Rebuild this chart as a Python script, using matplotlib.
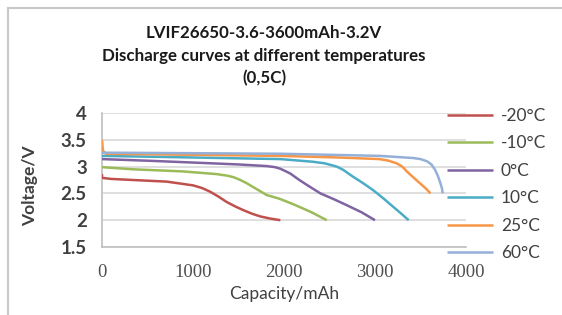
import matplotlib
matplotlib.use("Agg")
import matplotlib.pyplot as plt
from matplotlib.lines import Line2D

# capacity (mAh) / voltage (V)
cap_m20 = [0, 0, 100, 340, 710, 1000, 1100, 1190, 1280, 1370, 1460, 1550, 1650, 1740, 1850, 1960]
v_m20 = [2.86, 2.79, 2.77, 2.75, 2.72, 2.65, 2.60, 2.53, 2.44, 2.34, 2.26, 2.19, 2.12, 2.07, 2.03, 2.0]

cap_m10 = [0, 340, 890, 1260, 1380, 1450, 1520, 1590, 1700, 1810, 1950, 2100, 2300, 2470]
v_m10 = [2.99, 2.95, 2.91, 2.86, 2.83, 2.80, 2.75, 2.69, 2.58, 2.47, 2.40, 2.30, 2.15, 2.0]

cap_0 = [0, 500, 1080, 1500, 1810, 1900, 1960, 2010, 2070, 2160, 2250, 2400, 2550, 2690, 2850, 3000]
v_0 = [3.14, 3.11, 3.07, 3.04, 3.01, 2.99, 2.96, 2.92, 2.87, 2.76, 2.66, 2.50, 2.39, 2.28, 2.15, 2.0]

cap_10 = [0, 1000, 1960, 2320, 2450, 2580, 2650, 2700, 2760, 2870, 2980, 3090, 3200, 3290, 3370]
v_10 = [3.20, 3.17, 3.14, 3.09, 3.06, 3.00, 2.94, 2.88, 2.81, 2.69, 2.56, 2.41, 2.25, 2.12, 2.0]

cap_25 = [0, 10, 40, 1000, 1960, 2600, 3050, 3150, 3240, 3300, 3350, 3420, 3500, 3560, 3610]
v_25 = [3.5, 3.3, 3.24, 3.22, 3.20, 3.17, 3.14, 3.11, 3.06, 3.0, 2.91, 2.80, 2.68, 2.59, 2.5]

cap_60 = [0, 1000, 1960, 3050, 3420, 3500, 3570, 3620, 3660, 3690, 3715, 3735, 3745]
v_60 = [3.26, 3.25, 3.24, 3.20, 3.16, 3.14, 3.10, 3.04, 2.94, 2.83, 2.71, 2.60, 2.5]

labels = ["-20°C", "-10°C", "0°C", "10°C", "25°C", "60°C"]
colors = ["#C0504D", "#9BBB59", "#8064A2", "#4BACC6", "#F79646", "#95B0D8"]
xticks = [0, 1000, 2000, 3000, 4000]
yticks = [1.5, 2, 2.5, 3, 3.5, 4]

W, H = 562, 315
fig = plt.figure(figsize=(W / 100, H / 100), dpi=100)
ax = fig.add_axes([102 / W, 1 - 247 / H, (466 - 102) / W, (247 - 113) / H])

series = [(cap_m20, v_m20), (cap_m10, v_m10), (cap_0, v_0),
          (cap_10, v_10), (cap_25, v_25), (cap_60, v_60)]
for (x, y), c, lab in zip(series, colors, labels):
    ax.plot(x, y, color=c, lw=1.8, label=lab, solid_joinstyle="round",
            solid_capstyle="butt", zorder=3)

ax.set_xlim(0, 4000)
ax.set_ylim(1.5, 4)
ax.set_xticks(xticks)
ax.set_yticks(yticks)
ax.set_yticklabels([f"{t:g}" for t in yticks], fontfamily="Lato",
                   fontsize=13.5, fontweight="bold", color="#404040")
ax.set_xticklabels([str(t) for t in xticks], fontfamily="Liberation Serif",
                   fontsize=13.5, color="#505050")
ax.tick_params(length=0)
ax.tick_params(axis="y", pad=11)
ax.tick_params(axis="x", pad=12)
ax.grid(axis="y", color="#D9D9D9", lw=1.2)
ax.set_axisbelow(True)
for s in ("top", "right"):
    ax.spines[s].set_visible(False)
for s in ("left", "bottom"):
    ax.spines[s].set_color("#BFBFBF")
    ax.spines[s].set_linewidth(1.2)

ax.set_xlabel("Capacity/mAh", fontfamily="Lato", fontsize=12.5,
              color="#404040", labelpad=4)
ax.set_ylabel("Voltage/V", fontfamily="Lato", fontsize=12.5,
              fontweight="bold", color="#404040", labelpad=9)
ax.yaxis.set_label_coords(-0.175, 0.46)

fig.text(264 / W, 1 - 56 / H,
         "LVIF26650-3.6-3600mAh-3.2V\nDischarge curves at different temperatures\n(0,5C)",
         ha="center", va="center", fontfamily="Lato", fontweight="bold",
         fontsize=12.2, color="#1A1A1A", linespacing=1.5)

leg = fig.legend(loc="upper left", bbox_to_anchor=(447 / W, 1 - 108 / H),
                 frameon=False, handlelength=2.65, handletextpad=0.45,
                 labelspacing=0.66, borderpad=0, borderaxespad=0,
                 prop={"family": "Lato", "size": 12.5})
for t in leg.get_texts():
    t.set_color("#404040")

# light border round the chart as in the reference
fig.add_artist(Line2D([8 / W, 8 / W], [0, 1 - 8 / H], color="#C8C8C8", lw=1.5,
                      transform=fig.transFigure))
fig.add_artist(Line2D([8 / W, 1], [1 - 8 / H, 1 - 8 / H], color="#C8C8C8", lw=1.5,
                      transform=fig.transFigure))

fig.savefig("out.png", dpi=100)
